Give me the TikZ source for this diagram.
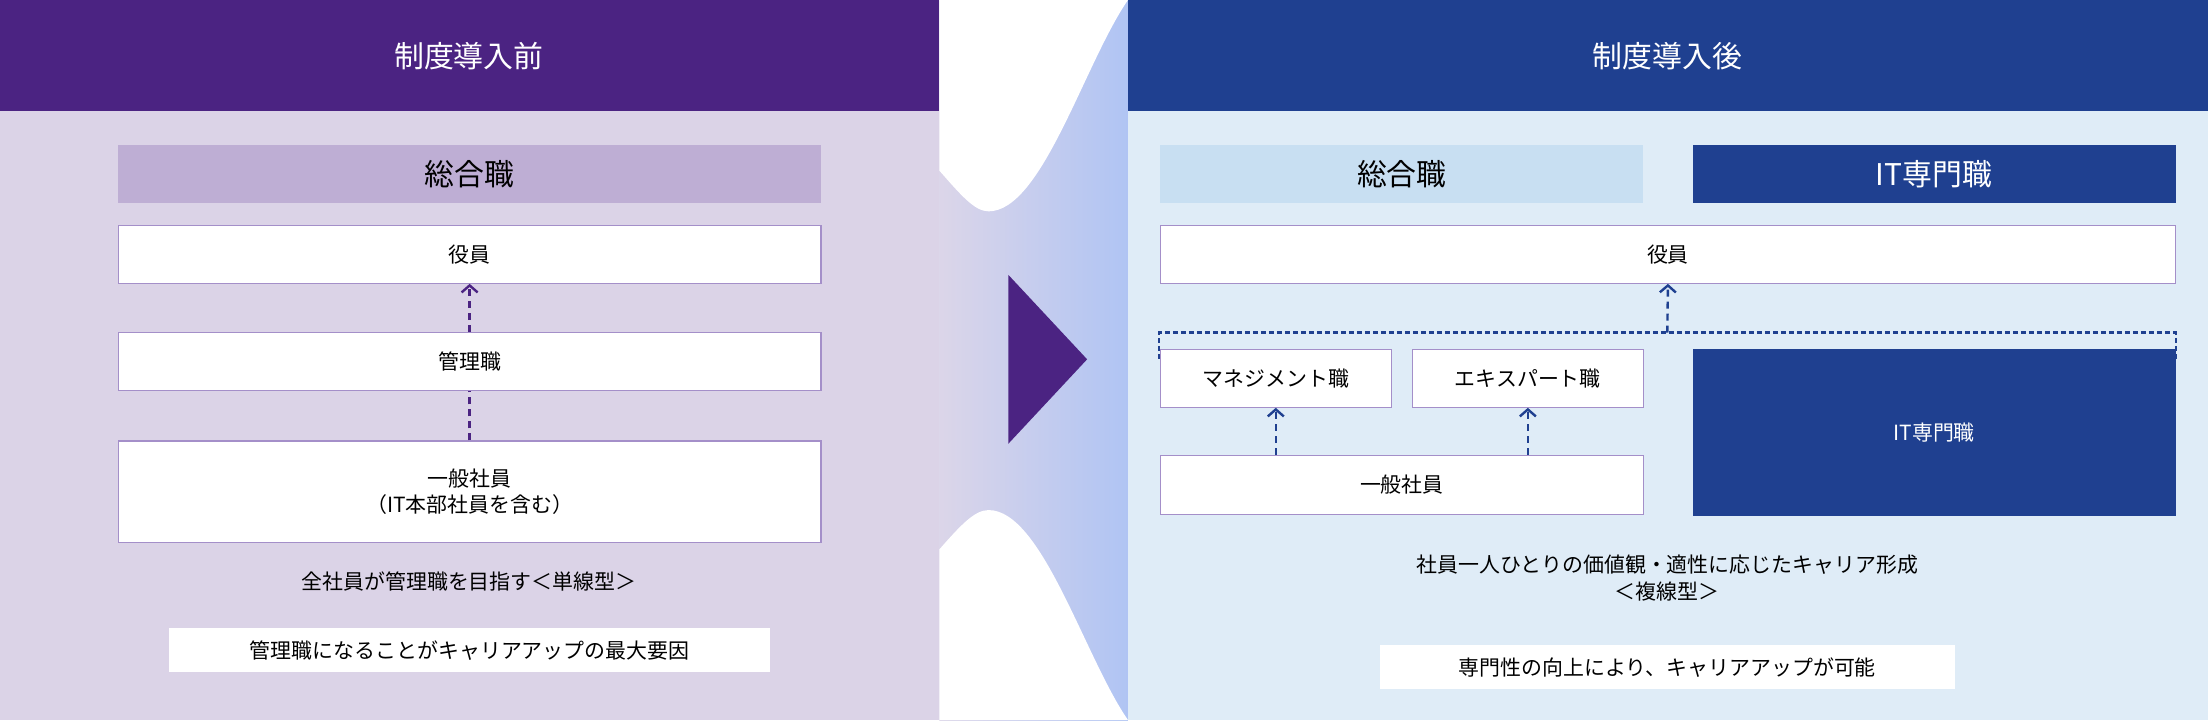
\documentclass[tikz,border=0pt]{standalone}
\usepackage{fontspec}
\setmainfont{Noto Sans CJK JP}
\usetikzlibrary{fit,arrows.meta}
\definecolor{pur}{HTML}{4B2382}
\definecolor{lav}{HTML}{DBD3E7}
\definecolor{lavbar}{HTML}{BEAED4}
\definecolor{bord}{HTML}{A48FC9}
\definecolor{nav}{HTML}{1F4090}
\definecolor{lblue}{HTML}{DFECF7}
\definecolor{lbar}{HTML}{C8DFF2}
\begin{document}
\begin{tikzpicture}[x={(1.40816bp,0)},y={(0,-1.40900bp)},
 box/.style={draw=bord,line width=1.2bp,fill=white,inner sep=0,font=\fontsize{21}{27}\selectfont},
 bar/.style={inner sep=0,font=\fontsize{30}{36}\selectfont},
 ttl/.style={text=white,font=\fontsize{30}{36}\selectfont},
 txt/.style={font=\fontsize{21}{27}\selectfont},
 hl/.style={fill=white,inner sep=0,font=\fontsize{21}{27}\selectfont},
 pa/.style={draw=pur,line width=2.4bp,dash pattern=on 7bp off 5bp},
 ba/.style={draw=nav,line width=2.4bp,dash pattern=on 7bp off 5bp},
 tip/.style={-{Straight Barb[length=7bp,width=16bp,line width=2.4bp]}}]
\useasboundingbox (0,0) rectangle (1568,511);
\fill[white] (0,0) rectangle (1568,511);
% left panel
\fill[lav] (0,0) rectangle (667,511);
\fill[pur] (0,0) rectangle (667,79);
\node[ttl] (t1) at (333,40) {制度導入前};
\node[bar,fill=lavbar,fit={(84,103)(583,144)}] (g1) {};
\node[bar] at (g1.center) {総合職};
\node[box,fit={(84,160)(583,201)}] (y1) {};
\node[txt] at (y1.center) {役員};
\node[box,fit={(84,236)(583,277)}] (k1) {};
\node[txt] at (k1.center) {管理職};
\node[box,fit={(84,313)(583,385)}] (i1) {};
\node[txt,align=center] at (i1.center) {一般社員\\（IT本部社員を含む）};
\draw[pa,tip] (k1.north) -- (y1.south);
\draw[pa] (i1.north) -- (k1.south);
\node[txt] (s1) at (333,413) {全社員が管理職を目指す＜単線型＞};
\node[hl,fit={(120,446)(547,477)}] (h1) {};
\node[txt] at (h1.center) {管理職になることがキャリアアップの最大要因};
% middle
\shade[left color=lav!90!lblue,right color=lbar!70!blue!40!lbar] (667,0) rectangle (801,511);
\fill[white] (667,0) -- (667,121) .. controls (682,138) and (692,150) .. (702,150) .. controls (740,150) and (770,45) .. (801,0) -- cycle;
\fill[white] (667,511) -- (667,390) .. controls (682,373) and (692,362) .. (702,362) .. controls (740,362) and (770,466) .. (801,511) -- cycle;
\fill[pur] (716,195) -- (772,255) -- (716,315) -- cycle;
% right panel
\fill[lblue] (801,0) rectangle (1568,511);
\fill[nav] (801,0) rectangle (1568,79);
\node[ttl] (t2) at (1184,40) {制度導入後};
\node[bar,fill=lbar,fit={(824,103)(1167,144)}] (g2) {};
\node[bar] at (g2.center) {総合職};
\node[bar,fill=nav,fit={(1202,103)(1545,144)}] (it) {};
\node[bar,text=white] at (it.center) {IT専門職};
\node[box,fit={(824,160)(1545,201)}] (y2) {};
\node[txt] at (y2.center) {役員};
\coordinate (dl) at (823,236);
\coordinate (dr) at (1545,236);
\coordinate (dm) at (1184,236);
\draw[ba,line width=2.2bp,dash pattern=on 5bp off 3bp] ([yshift=-26bp]dl) -- (dl) -- (dr) -- ([yshift=-26bp]dr);
\draw[ba,tip] (dm) -- (y2.south);
\node[box,fit={(824,248)(988,289)}] (m2) {};
\node[txt] at (m2.center) {マネジメント職};
\node[box,fit={(1003,248)(1167,289)}] (e2) {};
\node[txt] at (e2.center) {エキスパート職};
\node[fill=nav,inner sep=0,fit={(1202,248)(1545,366)}] (it2) {};
\node[txt,text=white] at (it2.center) {IT専門職};
\node[box,fit={(824,323)(1167,365)}] (i2) {};
\node[txt] at (i2.center) {一般社員};
\draw[ba,tip] (i2.north -| m2.south) -- (m2.south);
\draw[ba,tip] (i2.north -| e2.south) -- (e2.south);
\node[txt,align=center] (s2) at (1184,410) {社員一人ひとりの価値観・適性に応じたキャリア形成\\＜複線型＞};
\node[hl,fit={(980,458)(1388,489)}] (h2) {};
\node[txt] at (h2.center) {専門性の向上により、キャリアアップが可能};
\end{tikzpicture}
\end{document}
